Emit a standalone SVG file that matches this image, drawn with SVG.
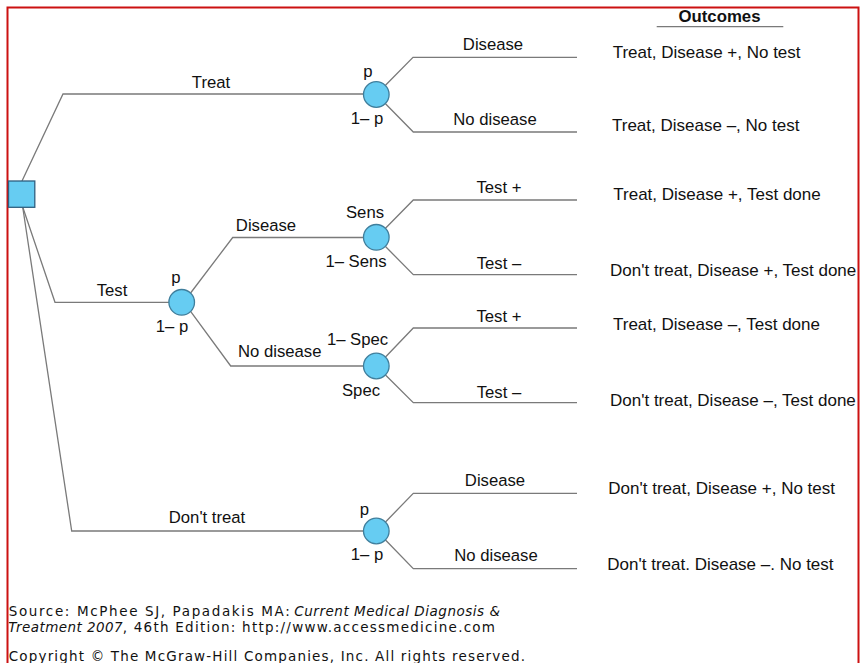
<svg xmlns="http://www.w3.org/2000/svg" width="860" height="663" viewBox="0 0 860 663">
<style>
.ln{fill:none;stroke:#7a7a7a;stroke-width:1.3}
.ch{fill:#66ccf2;stroke:#3f7e9c;stroke-width:1.3}
.dc{fill:#66ccf2;stroke:#2f5f7f;stroke-width:1.3}
.lb{font-family:"Liberation Sans",Arial,sans-serif;font-size:16.7px;fill:#111;text-anchor:middle}
.oc{font-family:"Liberation Sans",Arial,sans-serif;font-size:17px;fill:#111}
.hd{font-family:"Liberation Sans",Arial,sans-serif;font-size:16.8px;font-weight:bold;fill:#111;text-anchor:middle}
.src{font-family:"DejaVu Sans",Verdana,sans-serif;font-size:13.5px;fill:#111}
.it{font-style:italic}
</style>
<rect x="0" y="0" width="860" height="663" fill="#fff"/>
<rect x="7.5" y="7.5" width="851" height="700" fill="none" stroke="#cc1111" stroke-width="2"/>
<g id="connectors">
<path class="ln" d="M22,181 L63,94 L363.5,94"/>
<path class="ln" d="M385.5,85.3 L413,57.3 L577,57.3"/>
<path class="ln" d="M385.5,103.7 L413.3,132 L577,132"/>
<path class="ln" d="M22.7,207 L55,302.3 L169,302.3"/>
<path class="ln" d="M190.6,293 L232.7,237.5 L363.5,237.5"/>
<path class="ln" d="M385.5,228.3 L413.3,200 L577,200"/>
<path class="ln" d="M385.5,246.5 L413.3,274.7 L577,274.7"/>
<path class="ln" d="M190.6,311.3 L230.7,366 L363.5,366"/>
<path class="ln" d="M385.5,357 L413.3,328 L577,328"/>
<path class="ln" d="M385.5,375 L413.3,402.7 L577,402.7"/>
<path class="ln" d="M22.7,207 L71.7,531 L363.5,531"/>
<path class="ln" d="M385.5,522 L413.3,493.3 L577,493.3"/>
<path class="ln" d="M385.5,540 L413.3,568.7 L577,568.7"/>
<path class="ln" d="M656.7,26.7 L783.3,26.7"/>
</g>
<g id="decision"><rect class="dc" x="8.5" y="181" width="26.3" height="26.3"/></g>
<g id="treat-chance"><circle class="ch" cx="376.3" cy="94.5" r="12.8"/>
<text class="lb" x="368" y="77">p</text><text class="lb" x="367" y="124">1– p</text></g>
<g id="test-chance"><circle class="ch" cx="181.7" cy="302.3" r="12.8"/>
<text class="lb" x="176" y="283">p</text><text class="lb" x="172" y="331.5">1– p</text></g>
<g id="sens-chance"><circle class="ch" cx="376.3" cy="237.3" r="12.8"/>
<text class="lb" x="365" y="218">Sens</text><text class="lb" x="356" y="266.5">1– Sens</text></g>
<g id="spec-chance"><circle class="ch" cx="376.3" cy="366" r="12.8"/>
<text class="lb" x="357.5" y="345">1– Spec</text><text class="lb" x="361" y="395.5">Spec</text></g>
<g id="donttreat-chance"><circle class="ch" cx="376.3" cy="531" r="12.8"/>
<text class="lb" x="364.5" y="515">p</text><text class="lb" x="367" y="560">1– p</text></g>
<g id="branch-labels">
<text class="lb" x="211" y="88">Treat</text>
<text class="lb" x="493" y="50">Disease</text>
<text class="lb" x="495" y="124.5">No disease</text>
<text class="lb" x="112" y="295.5">Test</text>
<text class="lb" x="266" y="230.5">Disease</text>
<text class="lb" x="279.7" y="357">No disease</text>
<text class="lb" x="499" y="193">Test +</text>
<text class="lb" x="499" y="269">Test –</text>
<text class="lb" x="499" y="322">Test +</text>
<text class="lb" x="499" y="397.5">Test –</text>
<text class="lb" x="207" y="523">Don't treat</text>
<text class="lb" x="495" y="486">Disease</text>
<text class="lb" x="496" y="561">No disease</text>
</g>
<g id="outcomes">
<text class="hd" x="719.5" y="21.7">Outcomes</text>
<text class="oc" x="612.7" y="58">Treat, Disease +, No test</text>
<text class="oc" x="612" y="131">Treat, Disease –, No test</text>
<text class="oc" x="613.3" y="200">Treat, Disease +, Test done</text>
<text class="oc" x="610" y="276">Don't treat, Disease +, Test done</text>
<text class="oc" x="613" y="330">Treat, Disease –, Test done</text>
<text class="oc" x="610" y="406">Don't treat, Disease –, Test done</text>
<text class="oc" x="608.3" y="494">Don't treat, Disease +, No test</text>
<text class="oc" x="607.3" y="570">Don't treat. Disease –. No test</text>
</g>
<g id="source">
<text class="src" x="8.7" y="616" textLength="281" lengthAdjust="spacing">Source: McPhee SJ, Papadakis MA:</text>
<text class="src it" x="294.3" y="616" textLength="205.7" lengthAdjust="spacing">Current Medical Diagnosis &amp;</text>
<text class="src it" x="8.3" y="631.7" textLength="114.4" lengthAdjust="spacing">Treatment 2007</text>
<text class="src" x="122.7" y="631.7" textLength="372.3" lengthAdjust="spacing">, 46th Edition: http://www.accessmedicine.com</text>
<text class="src" x="8.7" y="661" textLength="516.3" lengthAdjust="spacing">Copyright © The McGraw-Hill Companies, Inc. All rights reserved.</text>
</g>
</svg>
